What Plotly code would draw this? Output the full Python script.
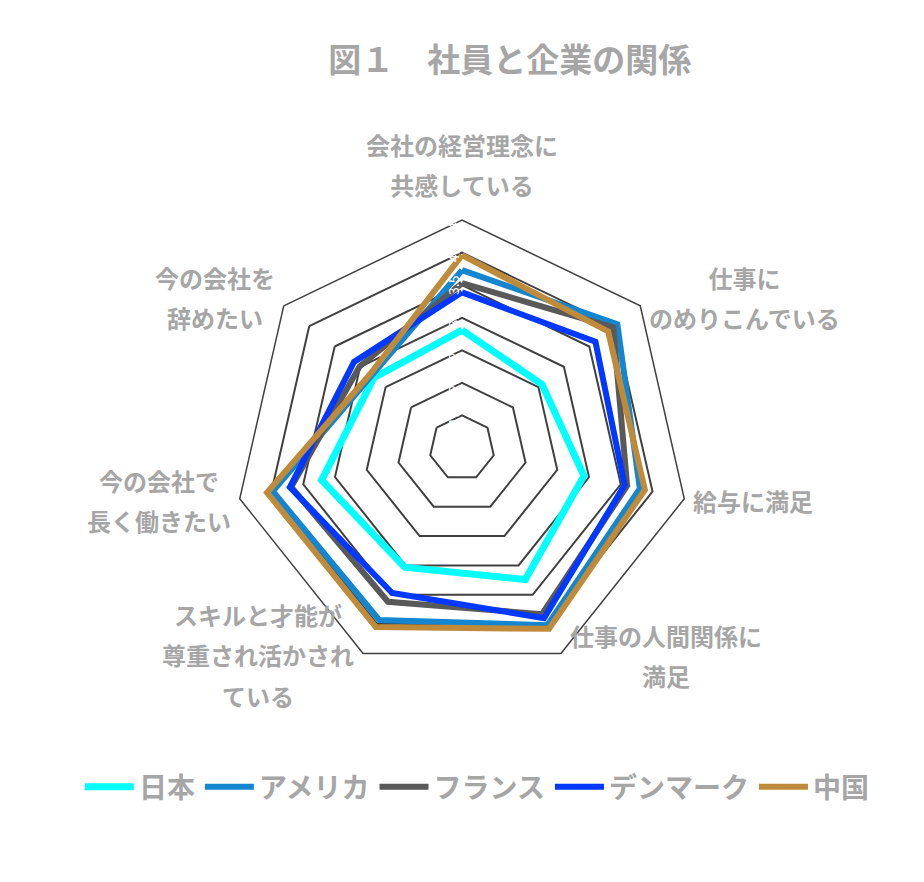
import math
import plotly.graph_objects as go

categories = [
    "会社の経営理念に<br>共感している",
    "仕事に<br>のめりこんでいる",
    "給与に満足",
    "仕事の人間関係に<br>満足",
    "スキルと才能が<br>尊重され活かされ<br>ている",
    "今の会社で<br>長く働きたい",
    "今の会社を<br>辞めたい",
]

japan = [2.81, 2.57, 2.92, 3.24, 3.03, 3.21, 2.73]
america = [3.73, 4.05, 3.80, 4.02, 3.93, 3.98, 2.78]
france = [3.53, 3.97, 3.60, 3.83, 3.62, 3.69, 3.01]
denmark = [3.39, 3.62, 3.56, 3.90, 3.47, 3.71, 3.12]
china = [3.96, 3.87, 3.88, 4.08, 4.05, 4.07, 2.81]

radial_ticks = [1.0, 1.5, 2.0, 2.5, 3.0, 3.5, 4.0, 4.5]

series = [
    ("日本", japan, "#00FFFF", 7),
    ("アメリカ", america, "#1486CF", 6),
    ("フランス", france, "#595959", 6),
    ("デンマーク", denmark, "#0038FF", 6),
    ("中国", china, "#BF8B3A", 6),
]

font_family = "Noto Sans CJK JP"
gray = "#A6A6A6"

W, H = 924, 882
dom_x = [0.2446, 0.7381]
dom_y = [0.2426, 0.7596]


def label_html(text):
    # small glyphs inside a bigger line box -> wider line spacing
    return "<br>".join(f"<span style='font-size:24px'>{line}</span>" for line in text.split("<br>"))


def main():
    fig = go.Figure()

    for name, values, color, width in series:
        fig.add_trace(go.Scatterpolar(
            r=values + values[:1],
            theta=categories + categories[:1],
            mode="lines",
            name=name,
            line={"color": color, "width": width},
        ))

    # category labels placed beside each vertex of the outer polygon
    cx = sum(dom_x) / 2
    cy = sum(dom_y) / 2
    radius = (dom_x[1] - dom_x[0]) * W / 2
    n = len(categories)
    for k, text in enumerate(categories):
        ang = 2 * math.pi * k / n
        s, c = math.sin(ang), math.cos(ang)
        if abs(s) < 0.1:
            xanchor, yanchor, dx, dy = "center", "bottom", 0, 16
        else:
            xanchor = "left" if s > 0 else "right"
            dx = 7 if s > 0 else -7
            dy = 8 if c > 0.5 else -2
            yanchor = "middle"
        fig.add_annotation(
            x=cx, y=cy, xref="paper", yref="paper",
            xshift=radius * s + dx, yshift=radius * c + dy,
            xanchor=xanchor, yanchor=yanchor,
            text=label_html(text), showarrow=False, align="center",
            font={"size": 31, "color": gray, "family": font_family, "weight": "bold"},
        )

    fig.update_layout(
        width=W,
        height=H,
        margin={"l": 0, "r": 0, "t": 0, "b": 0},
        paper_bgcolor="white",
        plot_bgcolor="white",
        font={"family": font_family, "color": gray},
        title={
            "text": "図１　社員と企業の関係",
            "x": 0.543,
            "xanchor": "center",
            "y": 0.941,
            "yanchor": "middle",
            "font": {"size": 33, "color": gray, "family": font_family, "weight": "bold"},
        },
        polar={
            "domain": {"x": dom_x, "y": dom_y},
            "bgcolor": "white",
            "gridshape": "linear",
            "angularaxis": {
                "direction": "clockwise",
                "rotation": 90,
                "showgrid": False,
                "showline": True,
                "linecolor": "#404040",
                "linewidth": 1.5,
                "ticks": "",
                "showticklabels": False,
            },
            "radialaxis": {
                "range": [1.0, 4.5],
                "tickvals": radial_ticks,
                "ticktext": [f"{v:.1f}" for v in radial_ticks],
                "angle": 90,
                "tickangle": 0,
                "side": "counterclockwise",
                "showline": False,
                "ticks": "",
                "gridcolor": "#404040",
                "gridwidth": 1.5,
                "tickfont": {"size": 14, "color": "white"},
            },
        },
        legend={
            "orientation": "h",
            "x": 0.508,
            "xanchor": "center",
            "y": 0.1168,
            "yanchor": "middle",
            "itemwidth": 49,
            "font": {"size": 28, "color": gray, "family": font_family, "weight": "bold"},
        },
    )

    fig.write_html("out.html")


if __name__ == "__main__":
    main()
